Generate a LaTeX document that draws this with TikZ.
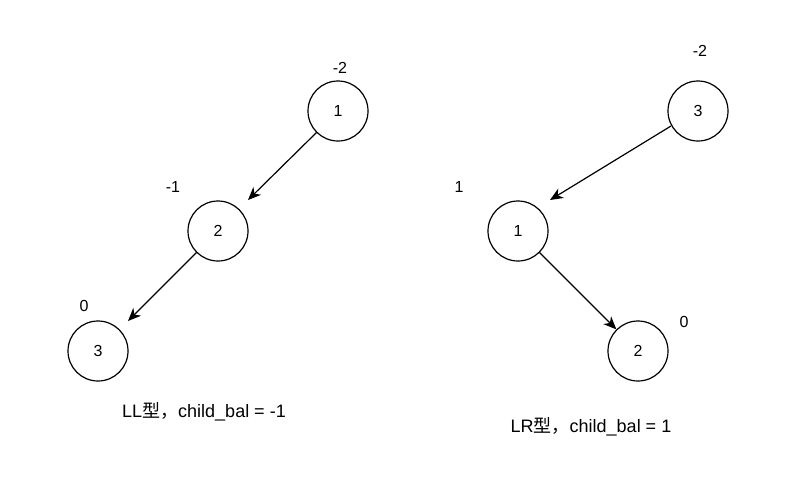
\documentclass[tikz,border=0pt]{standalone}
\usepackage{fontspec}
\setmainfont{Liberation Sans}
\newfontfamily\cjk{Noto Sans CJK SC}
\usetikzlibrary{arrows.meta}
\begin{document}
\begin{tikzpicture}[x=1pt,y=-1pt,
  treenode/.style={circle,draw,line width=1.2pt,minimum size=60pt,inner sep=0pt,font=\fontsize{16}{18}\selectfont},
  ballabel/.style={font=\fontsize{16}{18}\selectfont,inner sep=0pt},
  caption/.style={font=\fontsize{18}{20}\selectfont,inner sep=0pt},
  edge/.style={line width=1.2pt,-{Stealth[length=13pt,width=11pt,inset=4pt]}}]
\useasboundingbox[fill=white] (0,0) rectangle (785,483);
% LL case
\node[treenode] (a1) at (338,111) {1};
\node[treenode] (a2) at (218,231) {2};
\node[treenode] (a3) at (98,351) {3};
\node[ballabel] (b1) at (340,68) {-2};
\node[ballabel] (b2) at (173,187) {-1};
\node[ballabel] (b3) at (84,306) {0};
\coordinate (t1) at (248,200);
\coordinate (t2) at (128,321);
\draw[edge] (a1.225) -- (t1);
\draw[edge] (a2.225) -- (t2);
\node[caption] (c1) at (204,412) {LL{\cjk 型，}child\_bal = -1};
% LR case
\node[treenode] (r3) at (698,111) {3};
\node[treenode] (r1) at (518,231) {1};
\node[treenode] (r2) at (638,351) {2};
\node[ballabel] (q3) at (700,51) {-2};
\node[ballabel] (q1) at (459,187) {1};
\node[ballabel] (q2) at (684,322) {0};
\coordinate (t3) at (550,200);
\draw[edge] (r3) ++(-27,15) coordinate (s3) (s3) -- (t3);
\draw[edge] (r1.-45) -- (r2.135);
\node[caption] (c2) at (591,427) {LR{\cjk 型，}child\_bal = 1};
\end{tikzpicture}
\end{document}
